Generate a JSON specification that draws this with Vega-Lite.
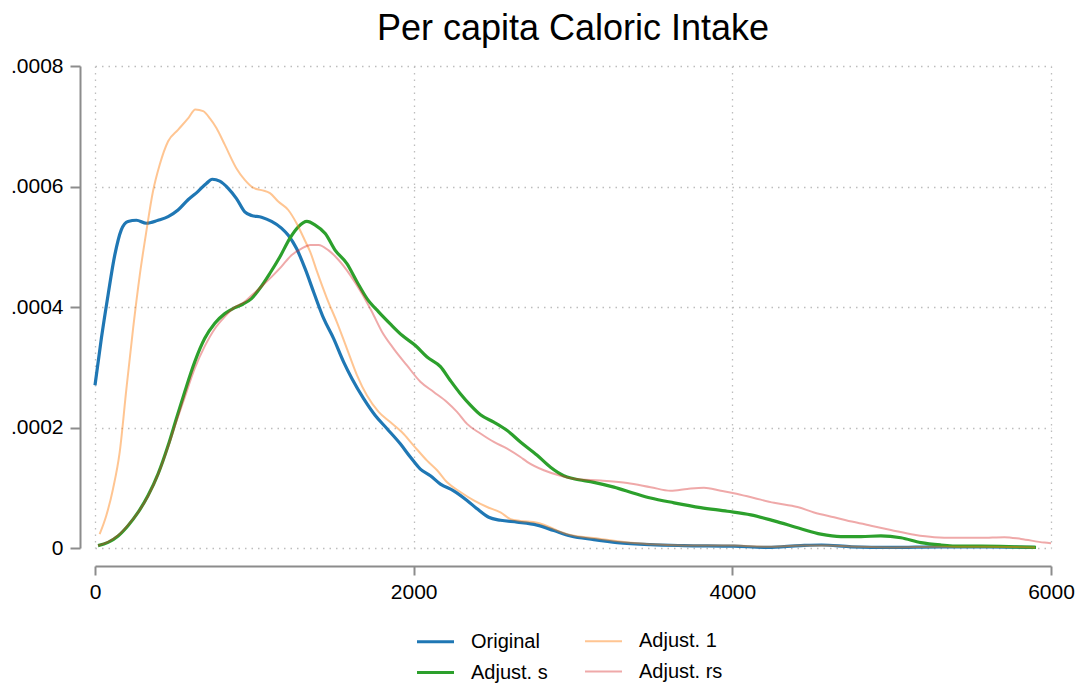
{
  "$schema": "https://vega.github.io/schema/vega-lite/v6.json",
  "width": 956,
  "height": 482,
  "autosize": {"type": "none"},
  "padding": {"left": 95, "top": 66, "right": 27, "bottom": 136},
  "background": "white",
  "config": {"font": "Liberation Sans", "view": {"stroke": null}},
  "title": {"text": "Per capita Caloric Intake", "fontSize": 36, "fontWeight": "normal", "color": "black", "anchor": "middle", "frame": "group", "offset": 7},
  "data": {"values": [
    {"s": "Original", "x": 0, "y": 0.000270},
    {"s": "Original", "x": 40, "y": 0.000348},
    {"s": "Original", "x": 82, "y": 0.000420},
    {"s": "Original", "x": 124, "y": 0.000486},
    {"s": "Original", "x": 165, "y": 0.000528},
    {"s": "Original", "x": 207, "y": 0.000542},
    {"s": "Original", "x": 260, "y": 0.000544},
    {"s": "Original", "x": 322, "y": 0.000539},
    {"s": "Original", "x": 396, "y": 0.000544},
    {"s": "Original", "x": 459, "y": 0.000550},
    {"s": "Original", "x": 521, "y": 0.000561},
    {"s": "Original", "x": 584, "y": 0.000578},
    {"s": "Original", "x": 647, "y": 0.000592},
    {"s": "Original", "x": 699, "y": 0.000605},
    {"s": "Original", "x": 736, "y": 0.000612},
    {"s": "Original", "x": 783, "y": 0.000609},
    {"s": "Original", "x": 836, "y": 0.000597},
    {"s": "Original", "x": 888, "y": 0.000580},
    {"s": "Original", "x": 940, "y": 0.000558},
    {"s": "Original", "x": 982, "y": 0.000552},
    {"s": "Original", "x": 1045, "y": 0.000549},
    {"s": "Original", "x": 1108, "y": 0.000542},
    {"s": "Original", "x": 1170, "y": 0.000531},
    {"s": "Original", "x": 1213, "y": 0.000519},
    {"s": "Original", "x": 1265, "y": 0.000497},
    {"s": "Original", "x": 1318, "y": 0.000464},
    {"s": "Original", "x": 1372, "y": 0.000425},
    {"s": "Original", "x": 1435, "y": 0.000381},
    {"s": "Original", "x": 1497, "y": 0.000348},
    {"s": "Original", "x": 1560, "y": 0.000309},
    {"s": "Original", "x": 1613, "y": 0.000281},
    {"s": "Original", "x": 1686, "y": 0.000248},
    {"s": "Original", "x": 1759, "y": 0.000220},
    {"s": "Original", "x": 1833, "y": 0.000198},
    {"s": "Original", "x": 1916, "y": 0.000173},
    {"s": "Original", "x": 1979, "y": 0.000151},
    {"s": "Original", "x": 2042, "y": 0.000131},
    {"s": "Original", "x": 2105, "y": 0.000120},
    {"s": "Original", "x": 2168, "y": 0.000106},
    {"s": "Original", "x": 2251, "y": 0.000095},
    {"s": "Original", "x": 2335, "y": 0.000079},
    {"s": "Original", "x": 2398, "y": 0.000065},
    {"s": "Original", "x": 2471, "y": 0.000051},
    {"s": "Original", "x": 2545, "y": 0.000046},
    {"s": "Original", "x": 2650, "y": 0.000043},
    {"s": "Original", "x": 2775, "y": 0.000038},
    {"s": "Original", "x": 2880, "y": 0.000029},
    {"s": "Original", "x": 2985, "y": 0.000020},
    {"s": "Original", "x": 3131, "y": 0.000014},
    {"s": "Original", "x": 3278, "y": 0.000009},
    {"s": "Original", "x": 3487, "y": 0.0000055},
    {"s": "Original", "x": 3695, "y": 0.000004},
    {"s": "Original", "x": 4010, "y": 0.000003},
    {"s": "Original", "x": 4220, "y": 0.000001},
    {"s": "Original", "x": 4430, "y": 0.000004},
    {"s": "Original", "x": 4560, "y": 0.000005},
    {"s": "Original", "x": 4750, "y": 0.000002},
    {"s": "Original", "x": 5000, "y": 0.000001},
    {"s": "Original", "x": 5300, "y": 0.000002},
    {"s": "Original", "x": 5600, "y": 0.000002},
    {"s": "Original", "x": 5900, "y": 0.000001},
    {"s": "Adjust. s", "x": 19, "y": 0.000004},
    {"s": "Adjust. s", "x": 82, "y": 0.0000094},
    {"s": "Adjust. s", "x": 145, "y": 0.000020},
    {"s": "Adjust. s", "x": 207, "y": 0.000037},
    {"s": "Adjust. s", "x": 270, "y": 0.000059},
    {"s": "Adjust. s", "x": 333, "y": 0.000087},
    {"s": "Adjust. s", "x": 396, "y": 0.000123},
    {"s": "Adjust. s", "x": 459, "y": 0.000170},
    {"s": "Adjust. s", "x": 511, "y": 0.000215},
    {"s": "Adjust. s", "x": 563, "y": 0.000259},
    {"s": "Adjust. s", "x": 626, "y": 0.000309},
    {"s": "Adjust. s", "x": 689, "y": 0.000348},
    {"s": "Adjust. s", "x": 752, "y": 0.000373},
    {"s": "Adjust. s", "x": 815, "y": 0.000389},
    {"s": "Adjust. s", "x": 878, "y": 0.000399},
    {"s": "Adjust. s", "x": 930, "y": 0.000405},
    {"s": "Adjust. s", "x": 982, "y": 0.000414},
    {"s": "Adjust. s", "x": 1035, "y": 0.000431},
    {"s": "Adjust. s", "x": 1098, "y": 0.000456},
    {"s": "Adjust. s", "x": 1160, "y": 0.000483},
    {"s": "Adjust. s", "x": 1223, "y": 0.000514},
    {"s": "Adjust. s", "x": 1276, "y": 0.000533},
    {"s": "Adjust. s", "x": 1330, "y": 0.000542},
    {"s": "Adjust. s", "x": 1382, "y": 0.000536},
    {"s": "Adjust. s", "x": 1445, "y": 0.000522},
    {"s": "Adjust. s", "x": 1508, "y": 0.000494},
    {"s": "Adjust. s", "x": 1581, "y": 0.000472},
    {"s": "Adjust. s", "x": 1644, "y": 0.000442},
    {"s": "Adjust. s", "x": 1707, "y": 0.000414},
    {"s": "Adjust. s", "x": 1780, "y": 0.000392},
    {"s": "Adjust. s", "x": 1853, "y": 0.000372},
    {"s": "Adjust. s", "x": 1927, "y": 0.000353},
    {"s": "Adjust. s", "x": 2011, "y": 0.000336},
    {"s": "Adjust. s", "x": 2084, "y": 0.000317},
    {"s": "Adjust. s", "x": 2168, "y": 0.000301},
    {"s": "Adjust. s", "x": 2230, "y": 0.000278},
    {"s": "Adjust. s", "x": 2293, "y": 0.000256},
    {"s": "Adjust. s", "x": 2356, "y": 0.000237},
    {"s": "Adjust. s", "x": 2419, "y": 0.000221},
    {"s": "Adjust. s", "x": 2503, "y": 0.000209},
    {"s": "Adjust. s", "x": 2587, "y": 0.000195},
    {"s": "Adjust. s", "x": 2670, "y": 0.000176},
    {"s": "Adjust. s", "x": 2775, "y": 0.000154},
    {"s": "Adjust. s", "x": 2859, "y": 0.000134},
    {"s": "Adjust. s", "x": 2942, "y": 0.000120},
    {"s": "Adjust. s", "x": 3005, "y": 0.000115},
    {"s": "Adjust. s", "x": 3131, "y": 0.000109},
    {"s": "Adjust. s", "x": 3257, "y": 0.000101},
    {"s": "Adjust. s", "x": 3382, "y": 0.000091},
    {"s": "Adjust. s", "x": 3487, "y": 0.000083},
    {"s": "Adjust. s", "x": 3634, "y": 0.000075},
    {"s": "Adjust. s", "x": 3801, "y": 0.000067},
    {"s": "Adjust. s", "x": 3969, "y": 0.000061},
    {"s": "Adjust. s", "x": 4116, "y": 0.000055},
    {"s": "Adjust. s", "x": 4262, "y": 0.000045},
    {"s": "Adjust. s", "x": 4430, "y": 0.000032},
    {"s": "Adjust. s", "x": 4555, "y": 0.000023},
    {"s": "Adjust. s", "x": 4681, "y": 0.000019},
    {"s": "Adjust. s", "x": 4807, "y": 0.000019},
    {"s": "Adjust. s", "x": 4932, "y": 0.000020},
    {"s": "Adjust. s", "x": 5058, "y": 0.000017},
    {"s": "Adjust. s", "x": 5183, "y": 0.000009},
    {"s": "Adjust. s", "x": 5309, "y": 0.000005},
    {"s": "Adjust. s", "x": 5435, "y": 0.000003},
    {"s": "Adjust. s", "x": 5560, "y": 0.000003},
    {"s": "Adjust. s", "x": 5770, "y": 0.000002},
    {"s": "Adjust. s", "x": 5906, "y": 0.000001},
    {"s": "Adjust. 1", "x": 29, "y": 0.000023},
    {"s": "Adjust. 1", "x": 71, "y": 0.000054},
    {"s": "Adjust. 1", "x": 113, "y": 0.000098},
    {"s": "Adjust. 1", "x": 155, "y": 0.000159},
    {"s": "Adjust. 1", "x": 197, "y": 0.000264},
    {"s": "Adjust. 1", "x": 239, "y": 0.000364},
    {"s": "Adjust. 1", "x": 281, "y": 0.000453},
    {"s": "Adjust. 1", "x": 322, "y": 0.000525},
    {"s": "Adjust. 1", "x": 364, "y": 0.000592},
    {"s": "Adjust. 1", "x": 406, "y": 0.000636},
    {"s": "Adjust. 1", "x": 459, "y": 0.000675},
    {"s": "Adjust. 1", "x": 521, "y": 0.000694},
    {"s": "Adjust. 1", "x": 584, "y": 0.000713},
    {"s": "Adjust. 1", "x": 630, "y": 0.000728},
    {"s": "Adjust. 1", "x": 679, "y": 0.000725},
    {"s": "Adjust. 1", "x": 721, "y": 0.000713},
    {"s": "Adjust. 1", "x": 762, "y": 0.000697},
    {"s": "Adjust. 1", "x": 815, "y": 0.000669},
    {"s": "Adjust. 1", "x": 888, "y": 0.000630},
    {"s": "Adjust. 1", "x": 940, "y": 0.000611},
    {"s": "Adjust. 1", "x": 993, "y": 0.000598},
    {"s": "Adjust. 1", "x": 1045, "y": 0.000594},
    {"s": "Adjust. 1", "x": 1098, "y": 0.000589},
    {"s": "Adjust. 1", "x": 1150, "y": 0.000575},
    {"s": "Adjust. 1", "x": 1213, "y": 0.000561},
    {"s": "Adjust. 1", "x": 1265, "y": 0.000539},
    {"s": "Adjust. 1", "x": 1318, "y": 0.000510},
    {"s": "Adjust. 1", "x": 1350, "y": 0.000492},
    {"s": "Adjust. 1", "x": 1393, "y": 0.000459},
    {"s": "Adjust. 1", "x": 1456, "y": 0.000414},
    {"s": "Adjust. 1", "x": 1518, "y": 0.000375},
    {"s": "Adjust. 1", "x": 1581, "y": 0.000331},
    {"s": "Adjust. 1", "x": 1644, "y": 0.000287},
    {"s": "Adjust. 1", "x": 1707, "y": 0.000253},
    {"s": "Adjust. 1", "x": 1780, "y": 0.000226},
    {"s": "Adjust. 1", "x": 1853, "y": 0.000209},
    {"s": "Adjust. 1", "x": 1927, "y": 0.000192},
    {"s": "Adjust. 1", "x": 2000, "y": 0.000170},
    {"s": "Adjust. 1", "x": 2084, "y": 0.000145},
    {"s": "Adjust. 1", "x": 2147, "y": 0.000129},
    {"s": "Adjust. 1", "x": 2210, "y": 0.000109},
    {"s": "Adjust. 1", "x": 2293, "y": 0.000093},
    {"s": "Adjust. 1", "x": 2377, "y": 0.000079},
    {"s": "Adjust. 1", "x": 2461, "y": 0.000068},
    {"s": "Adjust. 1", "x": 2545, "y": 0.000059},
    {"s": "Adjust. 1", "x": 2608, "y": 0.000048},
    {"s": "Adjust. 1", "x": 2670, "y": 0.000045},
    {"s": "Adjust. 1", "x": 2775, "y": 0.000042},
    {"s": "Adjust. 1", "x": 2963, "y": 0.000023},
    {"s": "Adjust. 1", "x": 3173, "y": 0.000015},
    {"s": "Adjust. 1", "x": 3383, "y": 0.0000083},
    {"s": "Adjust. 1", "x": 3592, "y": 0.000005},
    {"s": "Adjust. 1", "x": 3801, "y": 0.000004},
    {"s": "Adjust. 1", "x": 4010, "y": 0.000004},
    {"s": "Adjust. 1", "x": 4220, "y": 0.000002},
    {"s": "Adjust. 1", "x": 4430, "y": 0.000004},
    {"s": "Adjust. 1", "x": 4600, "y": 0.000004},
    {"s": "Adjust. 1", "x": 4800, "y": 0.000002},
    {"s": "Adjust. 1", "x": 5000, "y": 0.000001},
    {"s": "Adjust. 1", "x": 5300, "y": 0.000002},
    {"s": "Adjust. 1", "x": 5600, "y": 0.000002},
    {"s": "Adjust. 1", "x": 5900, "y": 0.000001},
    {"s": "Adjust. rs", "x": 19, "y": 0.000004},
    {"s": "Adjust. rs", "x": 82, "y": 0.000010},
    {"s": "Adjust. rs", "x": 145, "y": 0.000021},
    {"s": "Adjust. rs", "x": 207, "y": 0.000038},
    {"s": "Adjust. rs", "x": 270, "y": 0.000059},
    {"s": "Adjust. rs", "x": 333, "y": 0.000086},
    {"s": "Adjust. rs", "x": 396, "y": 0.000122},
    {"s": "Adjust. rs", "x": 459, "y": 0.000168},
    {"s": "Adjust. rs", "x": 511, "y": 0.000210},
    {"s": "Adjust. rs", "x": 563, "y": 0.000250},
    {"s": "Adjust. rs", "x": 626, "y": 0.000298},
    {"s": "Adjust. rs", "x": 689, "y": 0.000335},
    {"s": "Adjust. rs", "x": 752, "y": 0.000364},
    {"s": "Adjust. rs", "x": 815, "y": 0.000384},
    {"s": "Adjust. rs", "x": 878, "y": 0.000400},
    {"s": "Adjust. rs", "x": 930, "y": 0.000407},
    {"s": "Adjust. rs", "x": 982, "y": 0.000419},
    {"s": "Adjust. rs", "x": 1045, "y": 0.000434},
    {"s": "Adjust. rs", "x": 1108, "y": 0.000450},
    {"s": "Adjust. rs", "x": 1170, "y": 0.000467},
    {"s": "Adjust. rs", "x": 1233, "y": 0.000486},
    {"s": "Adjust. rs", "x": 1296, "y": 0.000497},
    {"s": "Adjust. rs", "x": 1351, "y": 0.000503},
    {"s": "Adjust. rs", "x": 1403, "y": 0.000503},
    {"s": "Adjust. rs", "x": 1466, "y": 0.000494},
    {"s": "Adjust. rs", "x": 1529, "y": 0.000478},
    {"s": "Adjust. rs", "x": 1602, "y": 0.000453},
    {"s": "Adjust. rs", "x": 1676, "y": 0.000422},
    {"s": "Adjust. rs", "x": 1738, "y": 0.000392},
    {"s": "Adjust. rs", "x": 1801, "y": 0.000359},
    {"s": "Adjust. rs", "x": 1874, "y": 0.000331},
    {"s": "Adjust. rs", "x": 1958, "y": 0.000303},
    {"s": "Adjust. rs", "x": 2042, "y": 0.000276},
    {"s": "Adjust. rs", "x": 2126, "y": 0.000259},
    {"s": "Adjust. rs", "x": 2210, "y": 0.000242},
    {"s": "Adjust. rs", "x": 2272, "y": 0.000226},
    {"s": "Adjust. rs", "x": 2335, "y": 0.000206},
    {"s": "Adjust. rs", "x": 2419, "y": 0.000190},
    {"s": "Adjust. rs", "x": 2503, "y": 0.000176},
    {"s": "Adjust. rs", "x": 2587, "y": 0.000165},
    {"s": "Adjust. rs", "x": 2670, "y": 0.000151},
    {"s": "Adjust. rs", "x": 2712, "y": 0.000143},
    {"s": "Adjust. rs", "x": 2817, "y": 0.000129},
    {"s": "Adjust. rs", "x": 2921, "y": 0.000120},
    {"s": "Adjust. rs", "x": 3005, "y": 0.000115},
    {"s": "Adjust. rs", "x": 3173, "y": 0.000112},
    {"s": "Adjust. rs", "x": 3340, "y": 0.000108},
    {"s": "Adjust. rs", "x": 3487, "y": 0.000101},
    {"s": "Adjust. rs", "x": 3613, "y": 0.000095},
    {"s": "Adjust. rs", "x": 3717, "y": 0.000098},
    {"s": "Adjust. rs", "x": 3822, "y": 0.000100},
    {"s": "Adjust. rs", "x": 3927, "y": 0.000095},
    {"s": "Adjust. rs", "x": 4010, "y": 0.000091},
    {"s": "Adjust. rs", "x": 4136, "y": 0.000083},
    {"s": "Adjust. rs", "x": 4262, "y": 0.000075},
    {"s": "Adjust. rs", "x": 4409, "y": 0.000068},
    {"s": "Adjust. rs", "x": 4513, "y": 0.000059},
    {"s": "Adjust. rs", "x": 4639, "y": 0.000051},
    {"s": "Adjust. rs", "x": 4765, "y": 0.000043},
    {"s": "Adjust. rs", "x": 4870, "y": 0.000037},
    {"s": "Adjust. rs", "x": 4995, "y": 0.000030},
    {"s": "Adjust. rs", "x": 5142, "y": 0.000022},
    {"s": "Adjust. rs", "x": 5267, "y": 0.000018},
    {"s": "Adjust. rs", "x": 5393, "y": 0.000017},
    {"s": "Adjust. rs", "x": 5560, "y": 0.000017},
    {"s": "Adjust. rs", "x": 5707, "y": 0.000018},
    {"s": "Adjust. rs", "x": 5812, "y": 0.000015},
    {"s": "Adjust. rs", "x": 5958, "y": 0.000009},
    {"s": "Adjust. rs", "x": 6000, "y": 0.000008}
  ]},
  "mark": {"type": "line", "interpolate": "monotone"},
  "encoding": {
    "x": {
      "field": "x", "type": "quantitative",
      "scale": {"domain": [0, 6000], "nice": false, "zero": false},
      "axis": {
        "title": null, "values": [0, 2000, 4000, 6000], "format": "d",
        "offset": 18, "tickSize": 9, "tickWidth": 2, "tickColor": "#8c8c8c",
        "domainColor": "#8c8c8c", "domainWidth": 2,
        "labelFontSize": 21, "labelColor": "black", "labelPadding": 6,
        "labelFlush": false, "labelOverlap": false,
        "grid": true, "gridColor": "#bdbdbd", "gridDash": [1.5, 5], "gridWidth": 1.3
      }
    },
    "y": {
      "field": "y", "type": "quantitative",
      "scale": {"domain": [0, 0.0008], "nice": false, "zero": false},
      "axis": {
        "title": null, "values": [0, 0.0002, 0.0004, 0.0006, 0.0008],
        "labelExpr": "datum.value == 0 ? '0' : substring(format(datum.value, '.4f'), 1)",
        "offset": 15, "tickSize": 10, "tickWidth": 2, "tickColor": "#8c8c8c",
        "domainColor": "#8c8c8c", "domainWidth": 2,
        "labelFontSize": 21, "labelColor": "black", "labelPadding": 7,
        "labelOverlap": false,
        "grid": true, "gridColor": "#bdbdbd", "gridDash": [1.5, 5], "gridWidth": 1.3
      }
    },
    "color": {
      "field": "s", "type": "nominal",
      "scale": {
        "domain": ["Original", "Adjust. 1", "Adjust. s", "Adjust. rs"],
        "range": ["#1f77b4", "rgba(255,127,14,0.45)", "#2ca02c", "rgba(214,39,40,0.4)"]
      },
      "legend": {
        "orient": "none", "legendX": 320, "legendY": 555,
        "direction": "horizontal", "columns": 2, "title": null,
        "labelFontSize": 20, "labelColor": "black",
        "symbolType": "stroke", "symbolSize": 1369, "symbolStrokeWidth": 3,
        "labelOffset": 15, "columnPadding": 33, "rowPadding": -1
      }
    },
    "strokeWidth": {
      "field": "s", "type": "nominal",
      "scale": {
        "type": "ordinal",
        "domain": ["Original", "Adjust. 1", "Adjust. s", "Adjust. rs"],
        "range": [3.2, 2, 3.2, 2]
      },
      "legend": null
    }
  }
}
